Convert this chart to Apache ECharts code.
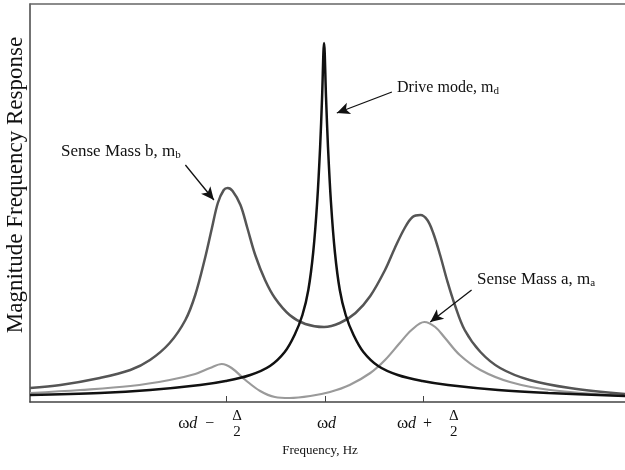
<!DOCTYPE html>
<html>
<head>
<meta charset="utf-8">
<script src="https://cdn.jsdelivr.net/npm/echarts@6/dist/echarts.min.js"></script>
<style>
html,body{margin:0;padding:0;background:#fff;}
#chart{width:625px;height:470px;}
</style>
</head>
<body>
<div id="chart"></div>
<script>
// ---- data (x: frequency offset in units of Δ/2 around ωd, y: relative magnitude) ----
const tickValues = [-1, 0, 1];
const tickOperators = ['−', '', '+'];
const xAxisTitle = 'Frequency, Hz';
const yAxisTitle = 'Magnitude Frequency Response';

const driveMode = [
  [-3.00, 7], [-2.29, 9], [-1.78, 12], [-1.27, 17], [-1.01, 21], [-0.76, 27], [-0.56, 36],
  [-0.41, 50], [-0.31, 67], [-0.23, 87], [-0.17, 112], [-0.12, 150], [-0.08, 200], [-0.05, 255],
  [-0.03, 305], [-0.01, 359], [0.01, 305], [0.03, 255], [0.06, 200], [0.10, 150], [0.15, 112],
  [0.21, 87], [0.29, 67], [0.39, 50], [0.54, 36], [0.74, 27], [0.99, 21], [1.25, 17],
  [1.76, 12], [2.27, 9], [3.05, 6]
];
const senseMassB = [
  [-3.00, 14], [-2.69, 17], [-2.29, 24], [-1.98, 32], [-1.78, 42], [-1.58, 59], [-1.42, 82],
  [-1.32, 107], [-1.22, 144], [-1.15, 174], [-1.09, 199], [-1.03, 212], [-0.99, 214], [-0.94, 211],
  [-0.86, 197], [-0.79, 174], [-0.71, 147], [-0.61, 122], [-0.51, 104], [-0.36, 87], [-0.20, 78],
  [-0.01, 75], [0.15, 79], [0.31, 89], [0.46, 106], [0.61, 132], [0.71, 154], [0.81, 174],
  [0.89, 185], [0.97, 187], [1.04, 182], [1.10, 169], [1.17, 147], [1.24, 122], [1.32, 97],
  [1.42, 72], [1.58, 50], [1.78, 34], [2.08, 22], [2.49, 14], [3.05, 8]
];
const senseMassA = [
  [-3.00, 9], [-2.49, 12], [-1.98, 16], [-1.58, 22], [-1.32, 28], [-1.17, 34], [-1.05, 38],
  [-0.95, 34], [-0.81, 22], [-0.66, 11], [-0.51, 5], [-0.36, 4], [-0.15, 6], [0.05, 10],
  [0.25, 17], [0.46, 29], [0.61, 42], [0.76, 59], [0.88, 72], [1.01, 80], [1.12, 75],
  [1.22, 64], [1.37, 47], [1.58, 32], [1.88, 20], [2.29, 12], [3.05, 6]
];
// annotation arrows (tail -> head) in data coordinates
const driveArrow = [[0.68, 310], [0.12, 289]];
const senseBArrow = [[-1.42, 237], [-1.13, 202]];
const senseAArrow = [[1.49, 112], [1.07, 80]];

const serif = 'Liberation Serif';
const chart = echarts.init(document.getElementById('chart'), null, {renderer: 'canvas'});

function arrowLine(pts) {
  return {
    silent: true,
    symbol: ['none', 'arrow'],
    symbolSize: [9, 13],
    label: {show: false},
    lineStyle: {color: '#111', width: 1.3, type: 'solid'},
    emphasis: {disabled: true},
    animation: false,
    data: [[{coord: pts[0]}, {coord: pts[1]}]]
  };
}

const tickFormat = function (v) {
  const i = tickValues.indexOf(Math.round(v));
  if (i === 1) {
    return '{gC| }\n{g6| }{w|ω}{dC|d}\n{gC| }';
  }
  if (i === 0) {
    return '{g54| }{frL|Δ}\n{w|ω}{d|d}{g6| }{opL|' + tickOperators[0] + '}\n{g55| }{frL|2}';
  }
  if (i === 2) {
    return '{g64| }{frR|Δ}\n{g12| }{w|ω}{d|d}{g5| }{opR|' + tickOperators[2] + '}\n{g65| }{frR|2}';
  }
  return '';
};

const base = {fontFamily: serif, color: '#111', lineHeight: 8, align: 'left'};
function rs(extra) { return Object.assign({}, base, extra); }

const option = {
  animation: false,
  backgroundColor: '#fff',
  grid: {left: 30, right: 0, top: 4, bottom: 68, containLabel: false, outerBoundsMode: 'none'},
  xAxis: [{
    type: 'value',
    min: -3, max: 3.05,
    position: 'bottom',
    axisLine: {show: true, onZero: false, lineStyle: {color: '#444', width: 1.5}},
    axisTick: {show: true, inside: true, length: 6, customValues: tickValues, lineStyle: {color: '#444', width: 1}},
    splitLine: {show: false},
    axisLabel: {
      show: true, margin: 10, customValues: tickValues, formatter: tickFormat,
      rich: {
        w: rs({fontSize: 17, width: 11}),
        d: rs({fontSize: 16, fontStyle: 'italic', width: 10}),
        dC: rs({fontSize: 16, fontStyle: 'italic', width: 11}),
        frL: rs({fontSize: 15, width: 42}),
        frR: rs({fontSize: 15, width: 12}),
        opL: rs({fontSize: 16, width: 69}),
        opR: rs({fontSize: 16, width: 38}),
        g5: rs({width: 5}), g6: rs({width: 6}), g12: rs({width: 12}),
        g54: rs({width: 54}), g55: rs({width: 55}), g64: rs({width: 64}), g65: rs({width: 65}),
        gC: rs({width: 28})
      }
    },
    name: xAxisTitle,
    nameLocation: 'middle',
    nameGap: 31,
    nameTextStyle: {fontFamily: serif, fontSize: 13, color: '#111', padding: [0, 15, 0, 0]}
  }, {
    type: 'value',
    min: -3, max: 3.05,
    position: 'top',
    axisLine: {show: true, onZero: false, lineStyle: {color: '#666', width: 1.5}},
    axisTick: {show: false}, axisLabel: {show: false}, splitLine: {show: false}
  }],
  yAxis: {
    type: 'value',
    min: 0, max: 398,
    axisLine: {show: true, onZero: false, lineStyle: {color: '#444', width: 1.5}},
    axisTick: {show: false}, axisLabel: {show: false}, splitLine: {show: false},
    name: yAxisTitle,
    nameLocation: 'middle',
    nameGap: 3,
    nameTextStyle: {fontFamily: serif, fontSize: 23, color: '#111', padding: [0, 0, 0, 36]}
  },
  series: [{
    name: 'Sense Mass a', type: 'line', data: senseMassA, xAxisIndex: 0,
    showSymbol: false, smooth: 0.35, silent: true,
    lineStyle: {color: '#9a9a9a', width: 2.2},
    markLine: arrowLine(senseAArrow)
  }, {
    name: 'Sense Mass b', type: 'line', data: senseMassB, xAxisIndex: 0,
    showSymbol: false, smooth: 0.35, silent: true,
    lineStyle: {color: '#555', width: 2.5},
    markLine: arrowLine(senseBArrow)
  }, {
    name: 'Drive mode', type: 'line', data: driveMode, xAxisIndex: 0,
    showSymbol: false, smooth: 0.35, silent: true,
    lineStyle: {color: '#111', width: 2.5},
    markLine: arrowLine(driveArrow)
  }],
  graphic: [{
    type: 'text', left: 397, top: 80, silent: true,
    style: {
      text: '{n|Drive mode, m}{s|d}',
      rich: {
        n: {fontFamily: serif, fontSize: 16, lineHeight: 18, fill: '#111'},
        s: {fontFamily: serif, fontSize: 11, lineHeight: 4, verticalAlign: 'bottom', fill: '#111'}
      }
    }
  }, {
    type: 'text', left: 61, top: 143, silent: true,
    style: {
      text: '{n|Sense Mass b, m}{s|b}',
      rich: {
        n: {fontFamily: serif, fontSize: 17, lineHeight: 18, fill: '#111'},
        s: {fontFamily: serif, fontSize: 11, lineHeight: 4, verticalAlign: 'bottom', fill: '#111'}
      }
    }
  }, {
    type: 'text', left: 477, top: 271, silent: true,
    style: {
      text: '{n|Sense Mass a, m}{s|a}',
      rich: {
        n: {fontFamily: serif, fontSize: 17, lineHeight: 18, fill: '#111'},
        s: {fontFamily: serif, fontSize: 11, lineHeight: 4, verticalAlign: 'bottom', fill: '#111'}
      }
    }
  }]
};
chart.setOption(option);
</script>
</body>
</html>
